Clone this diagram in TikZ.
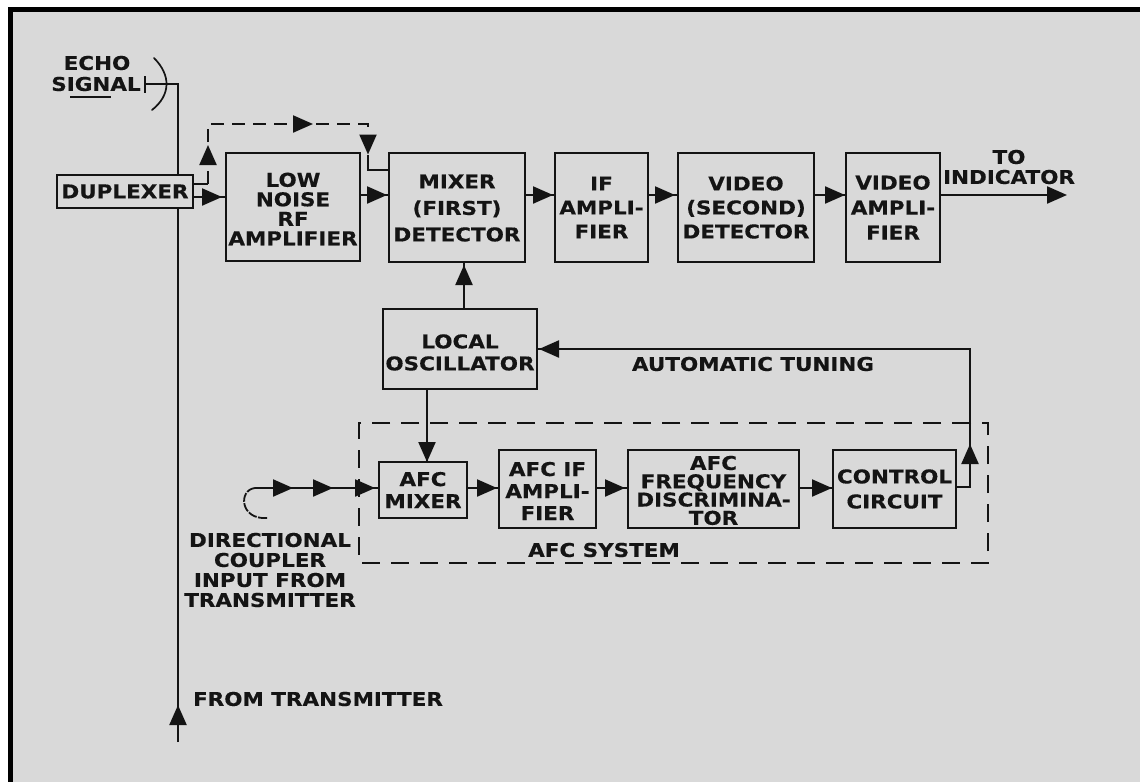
\documentclass[tikz,border=0pt]{standalone}
\usepackage{fontspec}
\setmainfont{DejaVu Sans}[FakeStretch=1.13,BoldFeatures={FakeBold=0.4}]
\usetikzlibrary{arrows.meta,decorations.markings}
\definecolor{panel}{HTML}{D9D9D9}
\definecolor{ink}{HTML}{141414}
\newcommand{\liftline}[1]{\rule{0pt}{#1pt}}
\tikzset{
  >={Triangle[length=20pt,width=17pt]},
  wire/.style={draw=ink,line width=2.2pt},
  dashwire/.style={wire,dash pattern=on 18pt off 11pt},
  arr/.style={postaction={decorate,decoration={markings,mark=at position #1 with {\arrow{>}}}}},
  txt/.style={font=\fontsize{19}{19}\bfseries\selectfont,text=ink,align=center,inner sep=0pt,outer sep=0pt},
  bx/.style n args={3}{draw=ink,line width=2.5pt,minimum width=#1,minimum height=#2,inner sep=0pt,outer sep=0pt,align=center,text=ink,font=\fontsize{19}{#3}\bfseries\selectfont},
}
\begin{document}
\begin{tikzpicture}[x=1pt,y=-1pt]
\useasboundingbox (0,0) rectangle (1140,782);
\fill[white] (0,0) rectangle (1140,782);
\fill[black] (8,7) rectangle (1140,782);
\fill[panel] (13,12) rectangle (1140,782);

% AFC system outline
\draw[dashwire,line width=2.5pt] (970,423) -- (359,423) -- (359,563) -- (988,563) -- (988,423) -- cycle;

% boxes
\node[bx={136pt}{33pt}{20pt},fill=panel] (dup) at (125,191.5) {DUPLEXER};
\node[bx={134pt}{108pt}{19.5pt},fill=panel] (lna) at (293,207) {\liftline{18}LOW\\NOISE\\RF\\AMPLIFIER};
\node[bx={136pt}{109pt}{26.5pt}] (mix) at (457,207.5) {\liftline{15}MIXER\\(FIRST)\\DETECTOR};
\node[bx={93pt}{109pt}{24pt}] (ifa) at (601.5,207.5) {IF\\AMPLI-\\FIER};
\node[bx={136pt}{109pt}{24pt}] (vdet) at (746,207.5) {VIDEO\\(SECOND)\\DETECTOR};
\node[bx={94pt}{109pt}{25pt}] (vamp) at (893,207.5) {VIDEO\\AMPLI-\\FIER};
\node[bx={154pt}{80pt}{22pt}] (lo) at (460,349) {\liftline{21}LOCAL\\OSCILLATOR};
\node[bx={88pt}{56pt}{22pt}] (amix) at (423,490) {AFC\\MIXER};
\node[bx={97pt}{78pt}{22pt}] (aif) at (547.5,489) {\liftline{18}AFC IF\\AMPLI-\\FIER};
\node[bx={171pt}{78pt}{18.3pt}] (afreq) at (713.5,489) {\liftline{17}AFC\\FREQUENCY\\DISCRIMINA-\\TOR};
\node[bx={123pt}{78pt}{25pt}] (ctrl) at (894.5,489) {CONTROL\\CIRCUIT};

% free-end coordinates
\coordinate (antL) at (145,84);
\coordinate (antT) at (178,84);
\coordinate (txBot) at (178,742);
\coordinate (dupOutA) at (193,184);
\coordinate (dashB) at (208,184);
\coordinate (dashC) at (208,124);
\coordinate (dashD) at (368,124);
\coordinate (dashE) at (368,155);
\coordinate (stubB) at (368,170);
\coordinate (stubC) at (389,170);
\coordinate (outEnd) at (1067,195);
\coordinate (ctrlA) at (970,487);
\coordinate (ctrlB) at (970,349);
\coordinate (cplS) at (267,518);
\coordinate (cplE) at (255,488);
\coordinate (barT) at (145,76);
\coordinate (barB) at (145,93);

% antenna and transmitter line
\draw[wire] (barT) -- (barB);
\draw[wire] (antL) -- (antT) -- (dup.north -| antT);
\draw[wire,arr=37pt] (txBot) -- (dup.south -| txBot);
\draw[wire,line width=1.7pt,line cap=round] (154,58) .. controls (171,75) and (171,95) .. (152,110);
\draw[wire,line width=2.4pt] (70,97) -- (111,97);

% dashed sample path
\draw[wire,line width=1.6pt] (dupOutA) -- (dashB);
\draw[wire,dash pattern=on 13pt off 8pt,arr=39pt,arr=165pt,arr=250.5pt] (dashB) -- (dashC) -- (dashD) -- (dashE);
\draw[wire] (dashE) -- (stubB) -- (stubC);

% signal chain
\draw[wire,arr=29pt] (dup.east |- 0,197) -- (lna.west |- 0,197);
\draw[wire,arr=27pt] (lna.east |- 0,195) -- (mix.west |- 0,195);
\draw[wire,arr=28pt] (mix.east |- 0,195) -- (ifa.west |- 0,195);
\draw[wire,arr=27pt] (ifa.east |- 0,195) -- (vdet.west |- 0,195);
\draw[wire,arr=31pt] (vdet.east |- 0,195) -- (vamp.west |- 0,195);
\draw[wire,->] (vamp.east |- outEnd) -- (outEnd);

% local oscillator
\draw[wire,arr=44pt] (lo.north -| 464,0) -- (mix.south -| 464,0);
\draw[wire,arr=73pt] (lo.south -| 427,0) -- (amix.north -| 427,0);

% AFC chain
\draw[wire,arr=30pt] (amix.east |- 0,488) -- (aif.west |- 0,488);
\draw[wire,arr=29pt] (aif.east |- 0,488) -- (afreq.west |- 0,488);
\draw[wire,arr=33pt] (afreq.east |- 0,488) -- (ctrl.west |- 0,488);
\draw[wire,arr=57pt,arr=583pt] (ctrl.east |- ctrlA) -- (ctrlA) -- (ctrlB) -- (lo.east |- ctrlB);
\draw[wire,line width=1.8pt,dash pattern=on 9pt off 1.5pt] (cplS) .. controls (240,520) and (238,490) .. (cplE);
\draw[wire,arr=38pt,arr=78pt,arr=120pt] (cplE) -- (amix.west |- cplE);

% labels
\node[txt] (echo) at (97,63) {ECHO};
\node[txt] (signal) at (96,84) {SIGNAL};
\node[txt] (toi) at (1009,167) {TO\\[1pt]INDICATOR};
\node[txt] (auto) at (753,364) {AUTOMATIC TUNING};
\node[txt] (afcsys) at (604,550) {AFC SYSTEM};
\node[txt] (dircpl) at (270,570) {DIRECTIONAL\\[1pt]COUPLER\\[1pt]INPUT FROM\\[1pt]TRANSMITTER};
\node[txt] (fromtx) at (318,699) {FROM TRANSMITTER};
\end{tikzpicture}
\end{document}
